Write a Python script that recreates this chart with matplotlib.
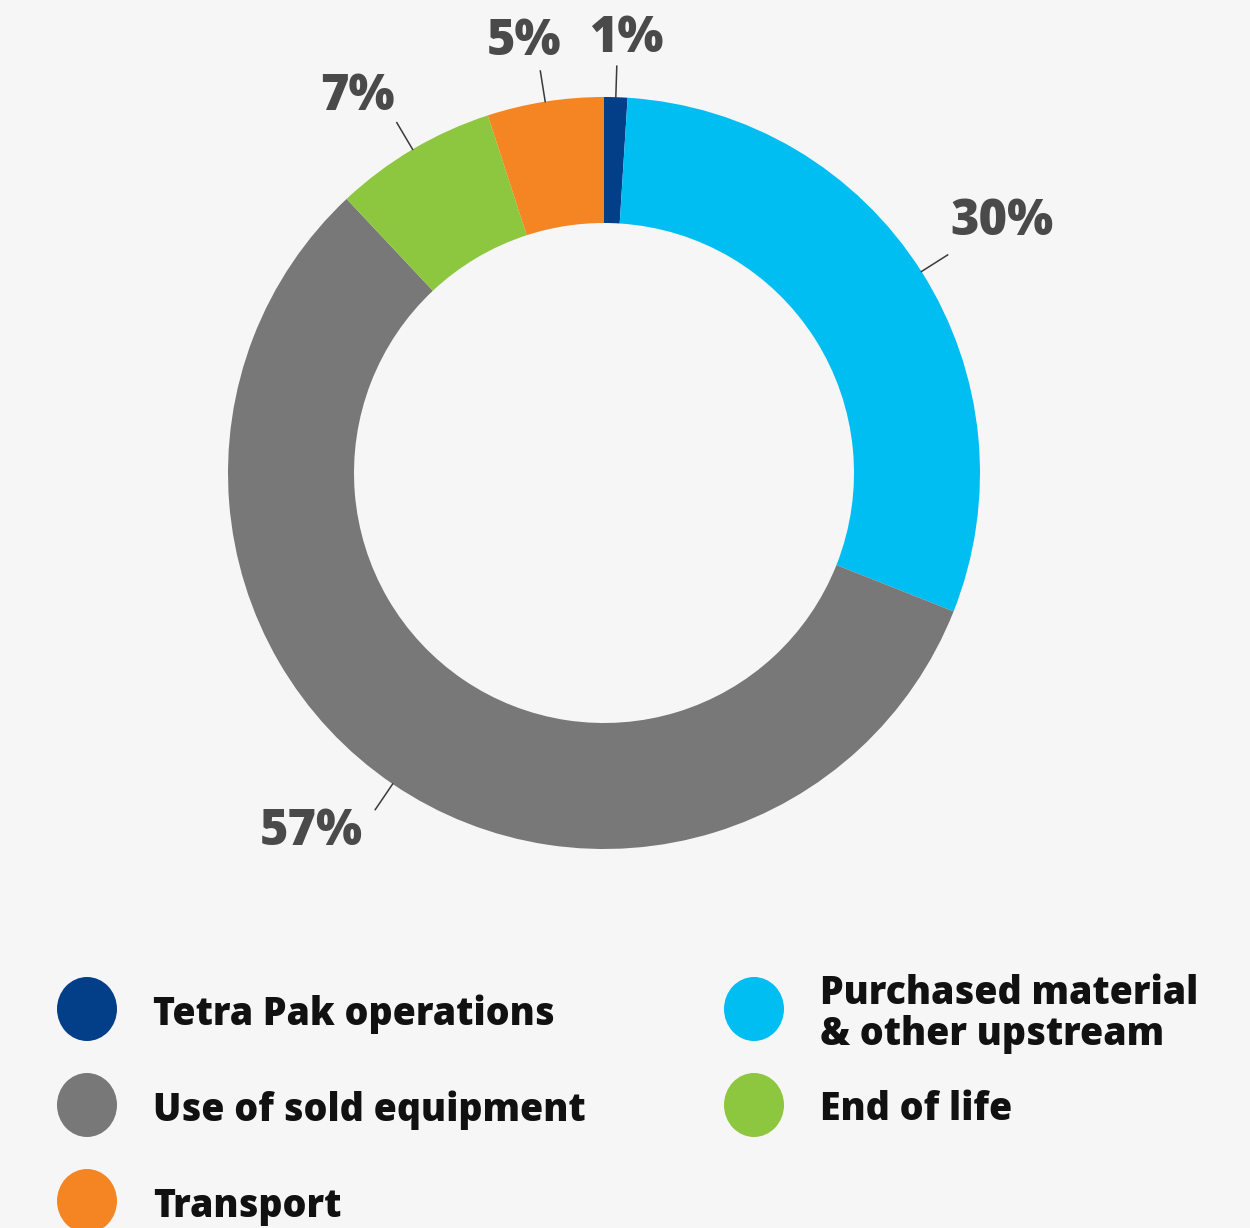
import numpy as np
import matplotlib
matplotlib.use("Agg")
import matplotlib.pyplot as plt
from matplotlib.patches import Ellipse

# Emission shares by source, clockwise from 12 o'clock
categories = ["Tetra Pak operations", "Purchased material\n& other upstream",
              "Use of sold equipment", "End of life", "Transport"]
shares = [1, 30, 57, 7, 5]
colors = ["#033f88", "#00bdf2", "#787878", "#8dc63f", "#f58523"]

W, H = 1250, 1228
BG = "#f6f6f6"
FONT = "Open Sans"

fig = plt.figure(figsize=(W / 100, H / 100), dpi=100, facecolor=BG)
ax = fig.add_axes([0, 0, 1, 1])
ax.set_facecolor(BG)

# donut, drawn in pixel units (y measured up from the bottom)
cx, cy, r_out, ring = 604, H - 473, 376, 126
wedges, _ = ax.pie(shares, colors=colors, center=(cx, cy), radius=r_out,
                   startangle=90, counterclock=False,
                   wedgeprops=dict(width=ring, linewidth=0))
ax.set_xlim(0, W)
ax.set_ylim(0, H)
ax.set_aspect("equal")
ax.axis("off")

# percentage labels with short radial leader lines
label_pos = [(626, H - 52), (1002, H - 235), (311, H - 845),
             (357, H - 110), (524, H - 55)]
for w, val, (tx, ty) in zip(wedges, shares, label_pos):
    mid = np.deg2rad((w.theta1 + w.theta2) / 2)
    x0, y0 = cx + r_out * np.cos(mid), cy + r_out * np.sin(mid)
    x1, y1 = cx + (r_out + 31) * np.cos(mid), cy + (r_out + 31) * np.sin(mid)
    ax.plot([x0, x1], [y0, y1], color="#3a3a3a", lw=1.1, zorder=3)
    ax.text(tx, ty, f"{val}%", ha="center", va="baseline", fontsize=35,
            fontweight="heavy", family=FONT, color="#4a4a4a")

# legend: two columns of coloured dots with bold labels
legend_order = [0, 2, 4, 1, 3]
slots = [(87, 1009), (87, 1105), (87, 1201), (754, 1009), (754, 1105)]
for idx, (lx, ly) in zip(legend_order, slots):
    ax.add_patch(Ellipse((lx, H - ly), 60, 64, color=colors[idx], lw=0))
    ax.text(lx + 66, H - ly - 5, categories[idx], ha="left", va="center",
            fontsize=27, fontweight="heavy", family=FONT, color="#111111",
            linespacing=1.1)

fig.savefig("out.png", dpi=100, facecolor=BG)
